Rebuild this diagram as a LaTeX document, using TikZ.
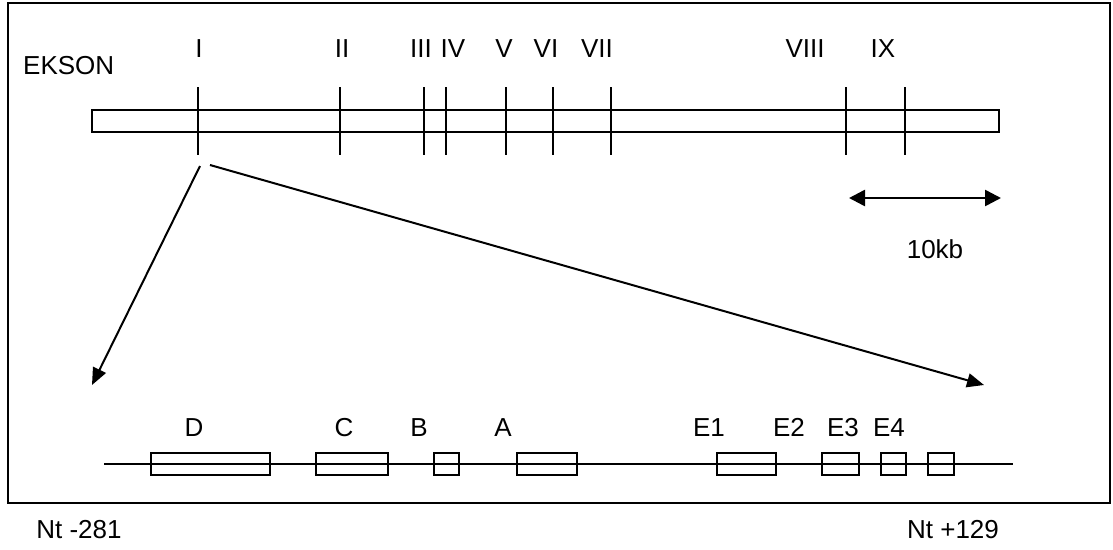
\documentclass[tikz,border=0pt]{standalone}
\usepackage{fontspec}
\setmainfont{Liberation Sans}
\usetikzlibrary{arrows.meta}
\tikzset{
  lbl/.style={anchor=base, inner sep=0pt, font=\fontsize{26}{30}\selectfont},
  thick line/.style={line width=2pt, line cap=butt},
  exonbox/.style={draw, line width=2pt, fill=none},
  zoomarrow/.style={line width=2pt, -{Triangle[length=17pt,width=14pt]}},
  scalearrow/.style={line width=2.6pt, {Triangle[length=16pt,width=16pt]}-{Triangle[length=16pt,width=16pt]}},
}
\begin{document}
\begin{tikzpicture}[x=1pt,y=-1pt]
\useasboundingbox (0,0) rectangle (1113,549);
% outer frame
\draw[line width=2.4pt] (8,3) rectangle (1110,503);

% gene bar
\draw[thick line] (92,110) rectangle (999,132);
\node[lbl, anchor=base west] (ekson) at (23,74) {EKSON};

% exon ticks and their numerals
\foreach \name/\tx/\lx/\txt in {
  I/198/199/I, II/340/342/II, III/424/421/III, IV/446/453/IV,
  V/506/504/V, VI/553/546/VI, VII/611/597/VII, VIII/846/805/VIII, IX/905/883/IX}{
  \coordinate (t\name-top) at (\tx,87);
  \coordinate (t\name-bot) at (\tx,155);
  \draw[thick line] (t\name-top) -- (t\name-bot);
  \node[lbl] (l\name) at (\lx,57) {\txt};
}

% scale bar
\coordinate (sc-l) at (849,198);
\coordinate (sc-r) at (1001,198);
\draw[scalearrow] (sc-l) -- (sc-r);
\node[lbl] (scale) at (935,258) {10kb};

% expansion of exon I
\coordinate (zl-start) at (200,166);
\coordinate (zl-end) at (92,385);
\coordinate (zr-start) at (210,165);
\coordinate (zr-end) at (984,385);
\draw[zoomarrow] (zl-start) -- (zl-end);
\draw[zoomarrow] (zr-start) -- (zr-end);

% detailed region: backbone and exons
\coordinate (bb-l) at (104,464);
\coordinate (bb-r) at (1013,464);
\draw[line width=1.7pt] (bb-l) -- (bb-r);
\foreach \n/\a/\b in {D/151/270, C/316/388, B/434/459, A/517/577,
  E1/717/776, E2/822/859, E3/881/906, E4/928/954}{
  \draw[exonbox] (\a,453) rectangle (\b,475);
}
\foreach \n/\x in {D/194, C/344, B/419, A/503, E1/709, E2/789, E3/843, E4/889}{
  \node[lbl] (b\n) at (\x,436) {\n};
}

% nucleotide positions
\node[lbl] (ntl) at (79,538) {Nt -281};
\node[lbl] (ntr) at (953,538) {Nt +129};
\end{tikzpicture}
\end{document}
